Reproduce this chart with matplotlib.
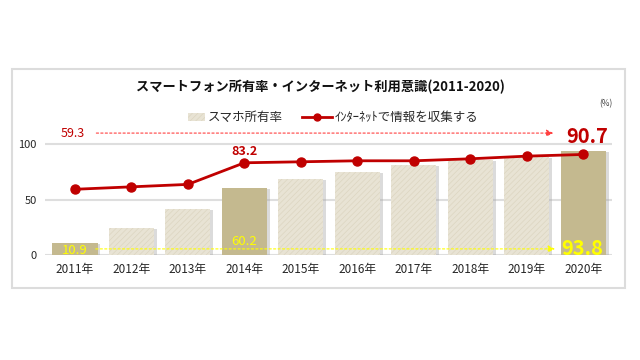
import matplotlib.pyplot as plt
from matplotlib.patches import Rectangle

plt.rcParams['font.family'] = ['Noto Sans CJK JP', 'DejaVu Sans']
plt.rcParams['hatch.linewidth'] = 0.5

# data
years = ['2011年', '2012年', '2013年', '2014年', '2015年',
         '2016年', '2017年', '2018年', '2019年', '2020年']
smartphone = [10.9, 24.6, 41.2, 60.2, 68.2, 75.0, 81.1, 85.6, 88.6, 93.8]
internet = [59.3, 61.5, 63.7, 83.2, 84.1, 85.0, 85.0, 86.8, 89.2, 90.7]
highlight = [0, 3, 9]

title = 'スマートフォン所有率・インターネット利用意識(2011-2020)'
bar_label = 'スマホ所有率'
line_label = 'ｲﾝﾀｰﾈｯﾄで情報を収集する'

RED = '#c00000'
YELLOW = '#ffff00'
LIGHT = '#e8e3d4'
HATCH = '#dcd5c0'
DARK = '#c4b98f'

fig = plt.figure(figsize=(6.4, 3.6), dpi=100)
fig.patch.set_facecolor('white')

# outer frame
fig.add_artist(Rectangle((12 / 640, 1 - 288 / 360), 613 / 640, 219 / 360,
                         transform=fig.transFigure, fill=False,
                         edgecolor='#dcdcdc', linewidth=1.5))

ax = fig.add_axes([45 / 640, 105 / 360, 567 / 640, 133 / 360])
ax.set_xlim(-0.53, 9.51)
ax.set_ylim(0, 120)

x = list(range(len(years)))

# gridlines
for g in [0, 50, 100]:
    ax.axhline(g, color='#dedede', linewidth=1.5, zorder=0)

# bar shadows
ax.bar([i + 0.05 for i in x], [v - 0.8 for v in smartphone], width=0.8,
       bottom=0, color='#a6a6a6', alpha=0.4, linewidth=0, zorder=1)

for i, v in enumerate(smartphone):
    if i in highlight:
        ax.bar(i, v, width=0.8, color=DARK, linewidth=0, zorder=2)
    else:
        ax.bar(i, v, width=0.8, color=LIGHT, edgecolor=HATCH,
               hatch='//////', linewidth=0, zorder=2)

ax.plot(x, internet, color=RED, linewidth=2.0, marker='o', markersize=6.5,
        zorder=3)

# annotations
ax.text(-0.04, 110, '59.3', color=RED, fontsize=9, ha='center', va='center')
ax.annotate('', xy=(8.52, 110), xytext=(0.33, 110),
            arrowprops=dict(arrowstyle='-|>', color='#ff4040', linestyle=(0, (2, 2)),
                            linewidth=0.8, mutation_scale=10))
ax.text(8.7, 107, '90.7', color=RED, fontsize=14.5, ha='left', va='center',
        fontweight='bold')
ax.text(3, 93.5, '83.2', color=RED, fontsize=9, ha='center', va='center',
        fontweight='bold')

ax.text(0, 3.8, '10.9', color=YELLOW, fontsize=9.5, ha='center', va='center')
ax.annotate('', xy=(8.55, 5.5), xytext=(0.32, 5.5),
            arrowprops=dict(arrowstyle='-|>', color=YELLOW, linestyle=(0, (2, 2)),
                            linewidth=0.8, mutation_scale=10))
ax.text(3, 12.6, '60.2', color=YELLOW, fontsize=9.5, ha='center', va='center')
ax.text(8.62, 6.0, '93.8', color=YELLOW, fontsize=14.5, ha='left', va='center',
        fontweight='bold')

ax.set_xticks(x)
ax.set_xticklabels(years, fontsize=8.5, color='#262626')
ax.set_yticks([0, 50, 100])
ax.set_yticklabels(['0', '50', '100'], fontsize=8, color='#262626')
ax.tick_params(length=0, pad=6)
for s in ax.spines.values():
    s.set_visible(False)

# title, unit, legend
fig.text(320 / 640, 1 - 87 / 360, title, ha='center', va='center',
         fontsize=9.5, fontweight='bold', color='#111111')
fig.text(606 / 640, 1 - 104 / 360, '(%)', ha='center', va='center',
         fontsize=6, color='#404040')

fig.add_artist(Rectangle((188 / 640, 1 - 121 / 360), 17 / 640, 8 / 360,
                         transform=fig.transFigure, facecolor=LIGHT,
                         edgecolor=HATCH, hatch='//////', linewidth=0))
fig.text(208 / 640, 1 - 117 / 360, bar_label, ha='left', va='center',
         fontsize=9, color='#262626')
fig.add_artist(plt.Line2D([302 / 640, 332 / 640], [1 - 117 / 360] * 2,
                          transform=fig.transFigure, color=RED, linewidth=2.0))
fig.add_artist(plt.Line2D([317 / 640], [1 - 117 / 360], transform=fig.transFigure,
                          color=RED, marker='o', markersize=5))
fig.text(335 / 640, 1 - 117 / 360, line_label, ha='left', va='center',
         fontsize=9, color='#262626')

fig.savefig('out.png', dpi=100)
